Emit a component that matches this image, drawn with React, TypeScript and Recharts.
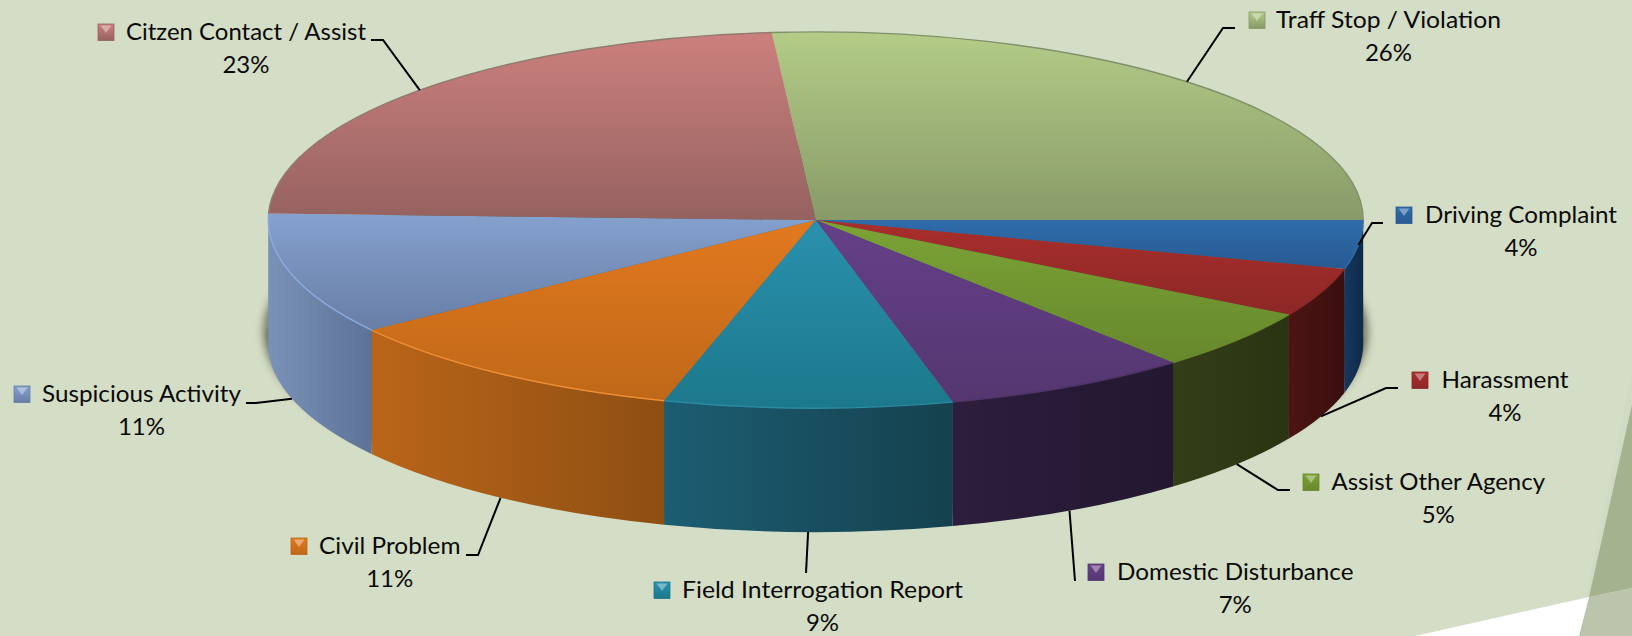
import React from 'react';
import { PieChart, Pie } from 'recharts';

const WIDTH = 1632;
const HEIGHT = 636;

const categories = [
  'Traff Stop / Violation',
  'Driving Complaint',
  'Harassment',
  'Assist Other Agency',
  'Domestic Disturbance',
  'Field Interrogation Report',
  'Civil Problem',
  'Suspicious Activity',
  'Citzen Contact / Assist',
];
// shares with one decimal; they round to the printed labels
const values = [26.3, 4.2, 4.2, 5.3, 7.3, 8.5, 10.6, 10.5, 23.2];

const topLight = ['#b3cc87', '#2f6cab', '#a92e2d', '#7ba336', '#654089', '#2a91ae', '#e2791f', '#85a1ce', '#cc807d'];
const topDark = ['#889a68', '#285a92', '#8c2826', '#67882c', '#553670', '#1c788c', '#bf6818', '#677ea6', '#956260'];
const wallLight = ['#1b3a60', '#17375f', '#4d1413', '#333e18', '#2c1e3c', '#1c5d72', '#ba6519', '#7b92b8', '#7a4a48'];
const wallDark = ['#0f2a48', '#0f2a48', '#3a0f0f', '#2b3412', '#241731', '#15414e', '#8e4f12', '#5c7296', '#5a3a38'];
const rimColors = ['#80906a', '#2f6cab', '#8c2826', '#67882c', '#4f3468', '#2a8ba3', '#ee8e36', '#8cabe2', '#8f7a70'];

// label layout: legend key, text span, baselines, leader line
const textX = [1276, 1425, 1441.5, 1331.5, 1117, 682, 319, 42, 126];
const textW = [225, 192, 127, 213.5, 236.5, 281, 141.5, 199, 240];
const textY = [28, 223, 388, 490, 580, 598, 554, 402, 40];
const keyX = [1249, 1396, 1412, 1303, 1088, 654, 291, 14, 98];
const elbows: number[][][] = [
  [[1223, 28], [1235, 28]],
  [[1372, 223], [1383, 223]],
  [[1386, 388], [1398, 388]],
  [[1278, 490], [1290, 490]],
  [[1075, 581]],
  [[806, 573]],
  [[478, 555], [466, 555]],
  [[256, 403], [246, 403]],
  [[383, 40], [371, 40]],
];
const leaderOnWallBottom = [false, false, true, true, true, true, true, true, false];

const CX = 815.7;
const CY = 220;
const RX = 547.5;
const SQUASH = 0.3435;
const DEPTH = 124;
const START_ANGLE = 94.6;

const tableData = categories.map((name, i) => ({ name, value: values[i] }));

const RAD = Math.PI / 180;

function rim(cx: number, cy: number, r: number, deg: number, drop = 0) {
  return `${cx + r * Math.cos(deg * RAD)} ${cy - r * SQUASH * Math.sin(deg * RAD) + drop}`;
}

function Slice3D(props: any) {
  const { cx, cy, outerRadius: r, startAngle, endAngle, name } = props;
  const i = categories.indexOf(name);
  const ry = r * SQUASH;
  const large = Math.abs(startAngle - endAngle) > 180 ? 1 : 0;
  const top = `M${cx} ${cy} L${rim(cx, cy, r, startAngle)} A${r} ${ry} 0 ${large} 1 ${rim(cx, cy, r, endAngle)} Z`;
  // only the part of the rim facing the viewer gets a wall
  const a1 = Math.min(startAngle, 0);
  const a2 = Math.max(endAngle, -180);
  const wall =
    a1 > a2
      ? `M${rim(cx, cy, r, a1)} A${r} ${ry} 0 0 1 ${rim(cx, cy, r, a2)} L${rim(cx, cy, r, a2, DEPTH)} A${r} ${ry} 0 0 0 ${rim(cx, cy, r, a1, DEPTH)} Z`
      : null;
  const edge = `M${rim(cx, cy, r, startAngle)} A${r} ${ry} 0 ${large} 1 ${rim(cx, cy, r, endAngle)}`;
  return (
    <g>
      {wall && <path d={wall} fill={`url(#wall${i})`} />}
      <path d={top} fill={`url(#top${i})`} />
      <path d={edge} fill="none" stroke={rimColors[i]} strokeWidth={1.4} />
    </g>
  );
}

function SliceShadow(props: any) {
  const { cx, cy, outerRadius: r, startAngle, endAngle } = props;
  const large = Math.abs(startAngle - endAngle) > 180 ? 1 : 0;
  const ry = r * SQUASH;
  const d = `M${cx} ${cy + DEPTH * 0.9} L${rim(cx, cy, r + 4, startAngle, DEPTH * 0.9)} A${r + 4} ${ry + 3} 0 ${large} 1 ${rim(cx, cy, r + 4, endAngle, DEPTH * 0.9)} Z`;
  return <path d={d} fill="#3a3f2c" style={{ filter: 'blur(5px)', opacity: 0.8 }} />;
}

function SliceLabel(props: any) {
  const { cx, cy, outerRadius: r, midAngle, index, value } = props;
  const y = textY[index];
  const x = textX[index];
  const w = textW[index];
  const kx = keyX[index];
  const start = rim(cx, cy, r, midAngle, leaderOnWallBottom[index] ? DEPTH : 0);
  const pts = [start, ...elbows[index].map((p) => `${p[0]} ${p[1]}`)].join(' L');
  const ky = y - 16;
  return (
    <g>
      <path d={`M${pts}`} fill="none" stroke="#000" strokeWidth={2} />
      <rect x={kx} y={ky} width={16} height={16.5} fill={`url(#key${index})`} stroke={topDark[index]} strokeWidth={0.8} />
      <path d={`M${kx + 2.5} ${ky + 1.5} L${kx + 13.5} ${ky + 1.5} L${kx + 8} ${ky + 9} Z`} fill="#fff" opacity={0.38} />
      <text
        x={x}
        y={y}
        fontFamily="Lato"
        fontSize={24}
        fill="#0a0a0a"
        textLength={w}
        lengthAdjust="spacingAndGlyphs"
      >
        {categories[index]}
      </text>
      <text x={x + w / 2} y={y + 33} fontFamily="Lato" fontSize={24} fill="#0a0a0a" textAnchor="middle">
        {Math.round(value)}%
      </text>
    </g>
  );
}

export default function App() {
  return (
    <div
      style={{
        position: 'absolute',
        left: 0,
        top: 0,
        width: WIDTH,
        height: HEIGHT,
        overflow: 'hidden',
        background: '#d4ddc5',
      }}
    >
      {/* slide decoration in the bottom right corner */}
      <svg width={WIDTH} height={HEIGHT} style={{ position: 'absolute', left: 0, top: 0 }}>
        <polygon points="1632,372 1633,400 1589,597 1586,597" fill="#d1dac4" />
        <polygon points="1633,400 1589,597 1632,588" fill="#a5b28f" />
        <polygon points="1589,597 1632,588 1632,636 1579,636" fill="#bbc5ab" />
        <polygon points="1589,597 1579,636 1415,636" fill="#ffffff" />
      </svg>
      <div style={{ position: 'absolute', left: 0, top: 0 }}>
        <PieChart width={WIDTH} height={HEIGHT} margin={{ top: 0, right: 0, bottom: 0, left: 0 }}>
          <defs>
            {categories.map((c, i) => (
              <React.Fragment key={c}>
                <linearGradient id={`top${i}`} x1="0" y1="0" x2="0" y2="1">
                  <stop offset="0" stopColor={topLight[i]} />
                  <stop offset="1" stopColor={topDark[i]} />
                </linearGradient>
                <linearGradient id={`wall${i}`} x1="0" y1="0" x2="1" y2="0">
                  <stop offset="0" stopColor={wallLight[i]} />
                  <stop offset="1" stopColor={wallDark[i]} />
                </linearGradient>
                <linearGradient id={`key${i}`} x1="0" y1="0" x2="0" y2="1">
                  <stop offset="0" stopColor={topLight[i]} />
                  <stop offset="1" stopColor={topDark[i]} />
                </linearGradient>
              </React.Fragment>
            ))}
          </defs>
          <Pie
            data={tableData}
            dataKey="value"
            nameKey="name"
            cx={CX}
            cy={CY}
            innerRadius={0}
            outerRadius={RX}
            startAngle={START_ANGLE}
            endAngle={START_ANGLE - 360}
            stroke="none"
            isAnimationActive={false}
            rootTabIndex={-1}
            shape={SliceShadow}
          />
          <Pie
            data={tableData}
            dataKey="value"
            nameKey="name"
            cx={CX}
            cy={CY}
            innerRadius={0}
            outerRadius={RX}
            startAngle={START_ANGLE}
            endAngle={START_ANGLE - 360}
            stroke="none"
            isAnimationActive={false}
            rootTabIndex={-1}
            shape={Slice3D}
            label={SliceLabel}
            labelLine={false}
          />
        </PieChart>
      </div>
    </div>
  );
}
